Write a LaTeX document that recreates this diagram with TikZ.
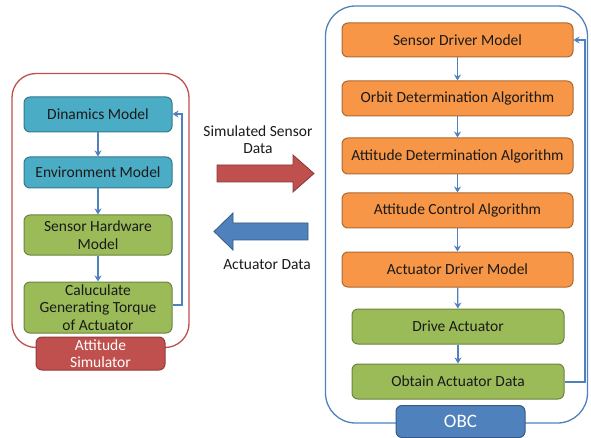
\documentclass[tikz,border=0pt]{standalone}
\usepackage{fontspec}
\setmainfont{Carlito}
\usetikzlibrary{arrows.meta}
\definecolor{bluel}{HTML}{4F81BD}
\definecolor{redl}{HTML}{C0504D}
\definecolor{teal}{HTML}{4BACC6}
\definecolor{greenb}{HTML}{9BBB59}
\definecolor{orangeb}{HTML}{F79646}
\definecolor{txt}{HTML}{1A1A1A}
\tikzset{
  box/.style={rounded corners=6pt, line width=1pt, text=txt, font=\fontsize{15.5}{17.5}\selectfont, align=center, inner sep=0pt},
  tealbox/.style={box, fill=teal, draw=teal!70!black},
  greenbox/.style={box, fill=greenb, draw=greenb!70!black},
  orangebox/.style={box, fill=orangeb, draw=orangeb!70!black},
  flow/.style={draw=bluel, line width=1.2pt, -{Stealth[length=6pt,width=7pt]}},
  lbl/.style={text=txt, font=\fontsize{15.5}{17}\selectfont, align=center},
  bigarrow/.style={line width=0.8pt, line join=miter},
}
\begin{document}
\begin{tikzpicture}[x=1pt,y=-1pt]
\useasboundingbox (0,0) rectangle (591,438);
% containers
\node[draw=redl, line width=1.3pt, rounded corners=24pt, minimum width=177pt, minimum height=274pt, inner sep=0pt] (simbox) at (100.5,210.5) {};
\node[draw=bluel, line width=1.3pt, rounded corners=30pt, minimum width=262pt, minimum height=417pt, inner sep=0pt] (obcbox) at (456.5,214.5) {};
% left boxes
\node[tealbox, minimum width=148pt, minimum height=35pt] (dyn) at (98,114.5) {Dinamics Model};
\node[tealbox, minimum width=148pt, minimum height=31pt] (env) at (98,172.5) {Environment Model};
\node[greenbox, minimum width=148pt, minimum height=40pt] (shw) at (98,235) {Sensor Hardware\\Model};
\node[greenbox, minimum width=148pt, minimum height=51pt] (calc) at (98,307.5) {Caluculate\\Generating Torque\\of Actuator};
\node[box, fill=redl, draw=redl!75!black, text=white, minimum width=129pt, minimum height=33pt] (attsim) at (100.5,353.5) {Attitude\\Simulator};
\draw[flow] (dyn) -- (env);
\draw[flow] (env) -- (shw);
\draw[flow] (shw) -- (calc);
\coordinate (lc1) at (182,305);
\coordinate (lc2) at (182,114);
\draw[flow] (calc.east |- lc1) -- (lc1) -- (lc2) -- (dyn.east |- lc2);
% right boxes
\node[orangebox, minimum width=231pt, minimum height=34pt] (sdm) at (457.5,40) {Sensor Driver Model};
\node[orangebox, minimum width=231pt, minimum height=35pt] (oda) at (457.5,98.5) {Orbit Determination Algorithm};
\node[orangebox, minimum width=231pt, minimum height=36pt] (ada) at (457.5,156) {Attitude Determination Algorithm};
\node[orangebox, minimum width=231pt, minimum height=35pt] (aca) at (457.5,210.5) {Attitude Control Algorithm};
\node[orangebox, minimum width=231pt, minimum height=35pt] (adm) at (457.5,269.5) {Actuator Driver Model};
\node[greenbox, minimum width=212pt, minimum height=35pt] (dact) at (458,326.5) {Drive Actuator};
\node[greenbox, minimum width=212pt, minimum height=35pt] (oad) at (458,381.5) {Obtain Actuator Data};
\node[box, fill=bluel, draw=bluel!70!black, text=white, font=\fontsize{19}{21}\selectfont, minimum width=129pt, minimum height=32pt] (obc) at (460.5,421.5) {OBC};
\draw[flow] (sdm) -- (oda);
\draw[flow] (oda) -- (ada);
\draw[flow] (ada) -- (aca);
\draw[flow] (aca) -- (adm);
\draw[flow] (adm) -- (dact);
\draw[flow] (dact) -- (oad);
\coordinate (rc1) at (585,382);
\coordinate (rc2) at (585,40);
\draw[flow] (oad.east |- rc1) -- (rc1) -- (rc2) -- (sdm.east |- rc2);
% middle
\node[lbl] (simlbl) at (258,140) {Simulated Sensor\\Data};
\draw[bigarrow, fill=redl, draw=redl!70!black]
  (217,165) -- (293,165) -- (293,155) -- (314,173.5) -- (293,192) -- (293,182) -- (217,182) -- cycle;
\draw[bigarrow, fill=bluel, draw=bluel!70!black]
  (308,223) -- (233,223) -- (233,213) -- (214,231.5) -- (233,250) -- (233,240) -- (308,240) -- cycle;
\node[lbl] (actlbl) at (267,265) {Actuator Data};
\end{tikzpicture}
\end{document}
